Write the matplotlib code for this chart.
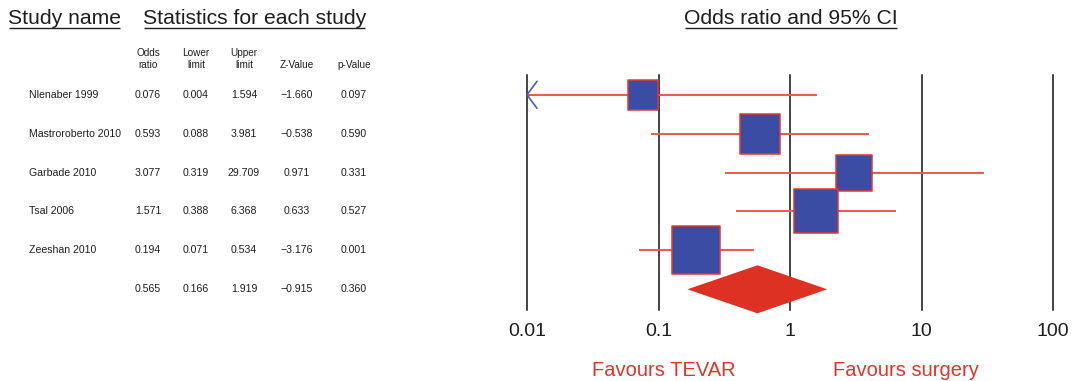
import matplotlib
matplotlib.use("Agg")
import matplotlib.pyplot as plt
from matplotlib.patches import Polygon

# ---- data -------------------------------------------------------------
studies = ["Nlenaber 1999", "Mastroroberto 2010", "Garbade 2010", "Tsal 2006", "Zeeshan 2010"]
odds_ratio = [0.076, 0.593, 3.077, 1.571, 0.194]
lower_limit = [0.004, 0.088, 0.319, 0.388, 0.071]
upper_limit = [1.594, 3.981, 29.709, 6.368, 0.534]
z_value = [-1.660, -0.538, 0.971, 0.633, -3.176]
p_value = [0.097, 0.590, 0.331, 0.527, 0.001]
rel_weight = [11.2, 19.9, 16.1, 24.1, 28.7]      # relative weight (%), sets box area

pooled_or = 0.565
pooled_lower = 0.166
pooled_upper = 1.919
pooled_z = -0.915
pooled_p = 0.360

axis_ticks = [0.01, 0.1, 1, 10, 100]
axis_tick_labels = ["0.01", "0.1", "1", "10", "100"]

# ---- style ------------------------------------------------------------
plt.rcParams["font.family"] = ["Liberation Sans", "DejaVu Sans"]
TXT = "#1e1e1e"
BOX_FILL = "#3a4ca4"
BOX_EDGE = "#e0392f"
CI_LINE = "#e85e55"
DIAMOND = "#dd3123"
ARROW = "#4a5bc0"

W, H, DPI = 1079, 381, 100
fig = plt.figure(figsize=(W / DPI, H / DPI), dpi=DPI)

# background axes in pixel units (y pointing down) for the table
bg = fig.add_axes([0, 0, 1, 1])
bg.set_xlim(0, W)
bg.set_ylim(H, 0)
bg.axis("off")

ROW0, ROW_STEP = 94.8, 38.9


def row_px(i):
    return ROW0 + ROW_STEP * i


# ---- headings (underlined) --------------------------------------------
headings = []
headings.append(bg.text(8, 24, "Study name", fontsize=15.2, color=TXT, ha="left", va="baseline"))
headings.append(bg.text(143, 24, "Statistics for each study", fontsize=15.2, color=TXT,
                        ha="left", va="baseline"))
headings.append(bg.text(791, 24, "Odds ratio and 95% CI", fontsize=15.2, color=TXT,
                        ha="center", va="baseline"))

# ---- column headers ---------------------------------------------------
col_x = [148, 196, 244, 297, 354]
hdr_fs = 7.2
col_head = [("Odds", "ratio"), ("Lower", "limit"), ("Upper", "limit"), (None, "Z-Value"), (None, "p-Value")]
for x, (l1, l2) in zip(col_x, col_head):
    if l1:
        bg.text(x, 53, l1, fontsize=hdr_fs, color=TXT, ha="center", va="center")
    bg.text(x, 65, l2, fontsize=hdr_fs, color=TXT, ha="center", va="center")


def fmt(v):
    s = f"{abs(v):.3f}"
    return ("\u2212" + s) if v < 0 else s


val_fs = 7.6
for i, name in enumerate(studies):
    y = row_px(i)
    bg.text(29, y, name, fontsize=val_fs, color=TXT, ha="left", va="center")
    vals = [odds_ratio[i], lower_limit[i], upper_limit[i], z_value[i], p_value[i]]
    for x, v in zip(col_x, vals):
        bg.text(x, y, fmt(v), fontsize=val_fs, color=TXT, ha="center", va="center")

y = row_px(len(studies))
for x, v in zip(col_x, [pooled_or, pooled_lower, pooled_upper, pooled_z, pooled_p]):
    bg.text(x, y, fmt(v), fontsize=val_fs, color=TXT, ha="center", va="center")

# ---- forest plot ------------------------------------------------------
AX_L, AX_R, AX_T, AX_B = 527, 1053, 75, 310
ax = fig.add_axes([AX_L / W, (H - AX_B) / H, (AX_R - AX_L) / W, (AX_B - AX_T) / H])
ax.set_xscale("log")
ax.set_xlim(axis_ticks[0], axis_ticks[-1])
ax.set_ylim((AX_B - ROW0) / ROW_STEP, (AX_T - ROW0) / ROW_STEP)
ax.patch.set_alpha(0)
for s in ax.spines.values():
    s.set_visible(False)
ax.set_yticks([])
ax.set_xticks(axis_ticks, axis_tick_labels)
ax.minorticks_off()
ax.tick_params(axis="x", length=0, pad=9, labelsize=14, labelcolor=TXT)

for t in axis_ticks:
    ax.axvline(t, color="#111111", lw=1.1, zorder=1, clip_on=False)

xmin = axis_ticks[0]
for i in range(len(studies)):
    lo = max(lower_limit[i], xmin)
    ax.plot([lo, upper_limit[i]], [i, i], color=CI_LINE, lw=1.5, solid_capstyle="butt",
            zorder=2, clip_on=False)
    if lower_limit[i] < xmin:
        for dy in (13.5, -13.5):
            ax.annotate("", xy=(xmin, i), xytext=(10, dy), textcoords="offset pixels",
                        arrowprops=dict(arrowstyle="-", color=ARROW, lw=1.2,
                                        shrinkA=0, shrinkB=0), zorder=4)
    side_px = 8.96 * rel_weight[i] ** 0.5
    side_pt = side_px * 72 / DPI
    ax.scatter([odds_ratio[i]], [i], marker="s", s=side_pt ** 2, facecolor=BOX_FILL,
               edgecolor=BOX_EDGE, linewidths=1.1, zorder=3, clip_on=False)

yp = len(studies)
half_h = 24 / ROW_STEP
ax.add_patch(Polygon([(pooled_lower, yp), (pooled_or, yp - half_h), (pooled_upper, yp),
                      (pooled_or, yp + half_h)], closed=True, facecolor=DIAMOND,
                     edgecolor="none", zorder=3, clip_on=False))

# ---- favours labels ---------------------------------------------------
bg.text(664, 376, "Favours TEVAR", fontsize=14.5, color="#e0352a", ha="center", va="baseline")
bg.text(906, 376, "Favours surgery", fontsize=14.5, color="#e0352a", ha="center", va="baseline")

# ---- underline the headings -------------------------------------------
fig.canvas.draw()
renderer = fig.canvas.get_renderer()
inv = bg.transData.inverted()
for t in headings:
    bb = t.get_window_extent(renderer)
    (x0, _), (x1, _) = inv.transform([(bb.x0, bb.y0), (bb.x1, bb.y0)])
    yb = t.get_position()[1] + 3.5
    bg.plot([x0 + 1, x1 - 1], [yb, yb], color=TXT, lw=1.0, solid_capstyle="butt")

fig.savefig("out.png", dpi=DPI)
